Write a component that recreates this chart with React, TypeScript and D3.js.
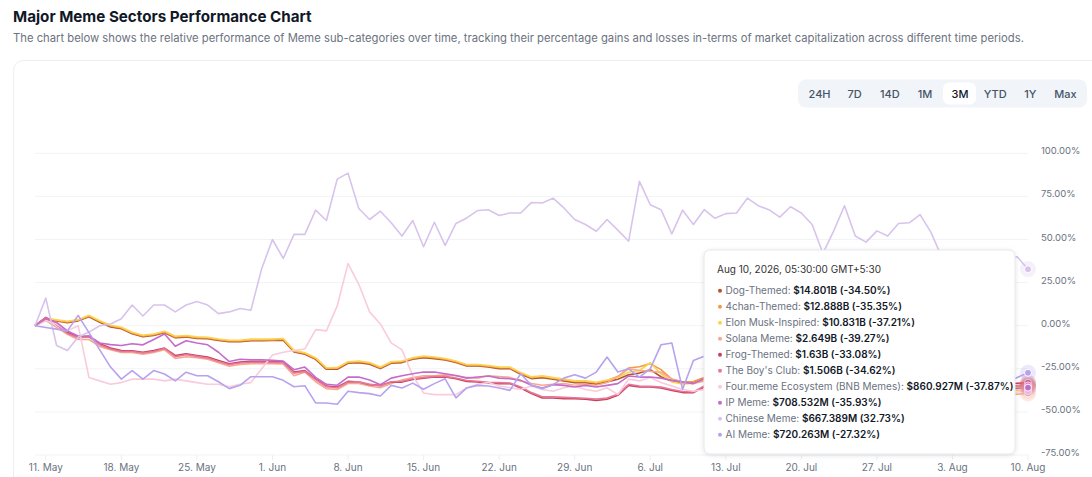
import * as d3 from "d3";

// daily points, 10 May 2026 .. 10 Aug 2026
const startDay = new Date(Date.UTC(2026, 4, 10));
const endDay = new Date(Date.UTC(2026, 7, 10));
const dates = d3.utcDay.range(startDay, d3.utcDay.offset(endDay, 1));

// % change per series
const dogThemed = [
  0, 3.8, 2.8, 1.7, 2.8, 5.2, 2.0, -0.7, -1.8, -4.7,
  -6.4, -5.7, -4.1, -7.0, -6.6, -7.4, -7.6, -8.6, -9.3, -9.3,
  -8.7, -8.7, -8.6, -8.4, -15.3, -16.6, -19.5, -25.3, -25.3, -21.8,
  -21.4, -22.3, -24.9, -21.8, -21.4, -19.5, -18.5, -19.1, -19.9, -21.4,
  -23.4, -23.4, -24.0, -24.9, -24.9, -28.2, -30.7, -30.1, -31.1, -32.0,
  -33.0, -33.0, -33.9, -32.6, -31.1, -28.5, -27.5, -25.5, -29.6, -32.3,
  -33.2, -33.0, -30.8, -31.5, -32.4, -33.8, -34.6, -33.1, -35.2, -36.0,
  -34.4, -33.6, -35.1, -36.5, -35.8, -34.2, -33.5, -35.0, -36.2, -34.9,
  -33.8, -35.5, -36.8, -35.6, -34.1, -33.7, -35.2, -36.1, -34.8, -33.9,
  -35.3, -34.7, -34.5,
];
const fourChan = [
  0, 4.2, 3.1, 2.2, 3.2, 5.6, 2.5, -0.2, -1.3, -4.2,
  -5.9, -5.2, -3.6, -6.5, -6.1, -6.9, -7.1, -8.1, -8.8, -8.8,
  -8.2, -8.2, -8.2, -7.9, -14.8, -16.1, -19.0, -24.8, -24.7, -21.3,
  -20.9, -21.8, -24.4, -21.3, -20.9, -19.0, -18.0, -18.6, -19.4, -20.9,
  -22.9, -22.9, -23.5, -24.4, -24.4, -27.6, -30.1, -29.5, -30.5, -31.4,
  -32.4, -32.4, -33.2, -31.8, -29.5, -24.5, -23.8, -22.0, -25.5, -31.0,
  -32.5, -32.4, -30.0, -30.8, -32.0, -33.5, -35.0, -34.2, -35.8, -36.4,
  -35.1, -34.0, -35.6, -37.0, -36.3, -34.8, -34.1, -35.7, -36.9, -35.5,
  -34.4, -36.0, -37.3, -36.2, -34.8, -34.3, -35.8, -36.7, -35.4, -34.6,
  -35.9, -35.6, -35.35,
];
const elonMusk = [
  0, 4.5, 3.4, 2.6, 3.5, 6.0, 2.9, 0.3, -0.9, -3.8,
  -5.5, -4.8, -3.2, -6.1, -5.7, -6.5, -6.7, -7.7, -8.4, -8.4,
  -7.8, -7.8, -7.7, -7.4, -14.3, -15.7, -18.6, -24.4, -24.3, -20.9,
  -20.5, -21.4, -24.0, -20.9, -20.5, -18.6, -17.6, -18.2, -19.0, -20.5,
  -22.5, -22.5, -23.1, -24.0, -24.0, -27.2, -29.7, -29.1, -30.1, -31.0,
  -32.0, -32.0, -32.8, -31.5, -30.0, -27.0, -26.0, -21.5, -28.0, -32.6,
  -33.8, -33.5, -31.0, -32.2, -33.6, -35.1, -36.4, -35.5, -37.1, -37.9,
  -36.6, -35.8, -37.2, -38.6, -37.9, -36.4, -35.9, -37.4, -38.5, -37.2,
  -36.1, -37.8, -39.0, -37.9, -36.5, -36.0, -37.5, -38.4, -37.1, -36.3,
  -37.6, -37.4, -37.21,
];
const solanaMeme = [
  0, 3.0, -1.0, -5.0, -8.0, -8.0, -12.0, -14.0, -15.5, -15.5,
  -16.5, -15.5, -14.0, -19.0, -18.0, -18.5, -19.5, -21.5, -23.5, -22.5,
  -22.0, -22.0, -22.0, -22.2, -29.0, -27.0, -32.5, -36.5, -37.0, -33.5,
  -33.5, -35.0, -36.0, -33.5, -31.5, -30.0, -29.0, -29.0, -28.5, -29.0,
  -30.0, -30.5, -29.0, -29.5, -30.0, -32.0, -33.5, -34.5, -34.0, -33.5,
  -34.5, -34.0, -34.5, -33.0, -29.5, -25.0, -26.0, -26.5, -27.0, -31.0,
  -33.0, -33.5, -32.0, -33.4, -34.8, -36.2, -35.1, -37.0, -38.3, -37.2,
  -36.0, -37.8, -39.1, -38.4, -36.9, -38.2, -39.6, -38.7, -37.3, -38.5,
  -40.0, -39.1, -37.6, -38.9, -40.2, -39.0, -37.8, -39.4, -40.3, -38.9,
  -39.6, -39.8, -39.27,
];
const frogThemed = [
  0, 4.8, 1.0, -3.8, -6.7, -6.1, -10.5, -13.0, -14.4, -14.6,
  -15.4, -14.4, -13.0, -17.3, -16.3, -17.3, -18.2, -20.2, -22.1, -21.1,
  -20.8, -20.8, -20.9, -21.0, -26.9, -26.0, -30.8, -35.0, -35.6, -32.3,
  -32.7, -34.2, -34.6, -32.7, -32.7, -31.2, -30.4, -29.8, -29.8, -30.8,
  -32.3, -32.7, -33.3, -33.6, -33.6, -36.1, -39.4, -41.9, -41.9, -42.3,
  -42.3, -42.7, -43.3, -42.7, -40.4, -34.6, -35.6, -35.6, -36.1, -37.5,
  -38.8, -38.8, -35.6, -34.9, -36.2, -35.1, -33.8, -34.7, -36.0, -35.2,
  -33.9, -32.8, -34.1, -35.5, -34.3, -33.1, -32.4, -33.9, -35.0, -34.0,
  -32.7, -33.8, -35.2, -34.1, -32.9, -32.2, -33.6, -34.6, -33.5, -32.6,
  -33.9, -33.4, -33.08,
];
const boysClub = [
  0, 4.5, 0.5, -4.5, -7.0, -6.5, -11.0, -13.5, -15.0, -15.0,
  -15.8, -15.0, -13.2, -18.0, -16.8, -17.8, -18.8, -20.8, -22.6, -21.6,
  -21.2, -21.2, -21.3, -21.5, -27.5, -26.5, -31.3, -35.4, -36.0, -32.8,
  -32.6, -34.0, -35.0, -32.5, -32.2, -30.8, -30.0, -29.5, -29.4, -30.3,
  -31.8, -32.2, -32.8, -33.0, -33.2, -35.5, -38.8, -41.2, -41.3, -41.6,
  -41.8, -42.1, -42.6, -42.0, -39.8, -34.0, -35.0, -35.2, -35.6, -37.0,
  -38.2, -38.4, -35.0, -35.8, -37.0, -36.1, -34.9, -35.6, -36.8, -36.0,
  -34.8, -33.9, -35.2, -36.5, -35.4, -34.3, -33.6, -35.0, -36.1, -35.2,
  -34.0, -35.1, -36.4, -35.3, -34.2, -33.5, -34.9, -35.8, -34.7, -33.9,
  -35.1, -34.9, -34.62,
];
const fourMeme = [
  0, 3.0, 1.0, -3.0, 0.0, -30.0, -32.0, -34.0, -33.0, -31.0,
  -31.0, -31.0, -32.0, -31.0, -32.0, -33.0, -34.0, -34.0, -35.5, -34.0,
  -33.0, -25.0, -17.0, -15.4, -14.4, -13.5, -2.3, -3.0, 11.5, 36.0,
  24.0, 8.0, 1.0, -10.0, -14.0, -29.0, -39.0, -40.0, -40.0, -40.0,
  -36.0, -34.0, -33.0, -35.0, -36.0, -37.0, -35.0, -37.0, -38.0, -36.0,
  -35.0, -37.0, -38.0, -36.0, -40.0, -31.0, -32.0, -30.0, -33.0, -35.0,
  -37.0, -38.0, -37.0, -38.0, -36.0, -39.0, -40.0, -37.0, -35.0, -38.0,
  -41.0, -39.0, -36.0, -38.0, -40.0, -37.0, -39.0, -41.0, -38.0, -36.0,
  -39.0, -40.0, -37.0, -38.0, -41.0, -39.0, -36.0, -38.0, -40.0, -37.0,
  -39.0, -38.5, -37.87,
];
const ipMeme = [
  0, 4.0, 2.0, -3.0, -6.0, -6.0, -10.0, -11.0, -11.5, -10.5,
  -11.1, -8.0, -4.8, -11.9, -8.7, -10.0, -11.1, -15.4, -20.8, -19.5,
  -19.8, -19.8, -20.0, -20.5, -25.5, -24.0, -30.0, -34.0, -34.5, -29.8,
  -29.8, -31.5, -34.2, -30.4, -29.0, -27.9, -26.9, -26.9, -27.9, -28.9,
  -30.4, -29.8, -29.2, -30.4, -30.8, -31.7, -34.6, -36.1, -34.2, -34.6,
  -35.6, -34.6, -35.6, -34.6, -33.6, -29.2, -29.8, -29.8, -30.4, -31.7,
  -32.7, -33.6, -30.8, -31.9, -33.2, -34.5, -33.4, -35.1, -36.3, -35.4,
  -34.2, -35.8, -37.0, -36.1, -34.7, -35.9, -37.2, -36.3, -35.0, -36.4,
  -37.6, -36.5, -35.2, -36.6, -37.8, -36.7, -35.4, -36.9, -37.5, -36.2,
  -36.8, -36.4, -35.93,
];
const chineseMeme = [
  0, 16, -11.5, -14.4, -6.6, -3.7, 0, 1, 4, 12,
  5.6, 12, 12, 8, 12, 14, 12, 7, 8, 10,
  9, 33, 50, 39, 53, 53, 67, 61, 85, 88.5,
  68, 61.6, 66.4, 59.7, 52, 61, 45.8, 60, 46.6, 59.3,
  62.5, 66.8, 67.3, 63.9, 65.4, 65.4, 71.5, 71.2, 74, 68.3,
  61.6, 58.7, 54.8, 61.6, 55.4, 49, 83.7, 70.2, 67.3, 53.3,
  67, 58.7, 67.3, 62.3, 65, 65.4, 74, 69.6, 67.3, 63,
  69, 65.4, 58.7, 42, 55, 69.6, 52, 48.5, 55, 52,
  59.3, 59.7, 64.4, 54.3, 40, 36, 33, 38, 41, 37,
  39, 40, 32.73,
];
const aiMeme = [
  0, -1, -2, -3, 6, -4, -14, -24, -31, -26,
  -31, -26, -28, -32, -27, -29, -29, -32.5, -36.5, -34.6,
  -29.6, -29.6, -29.6, -31.7, -35.4, -34.8, -44.8, -44.8, -45.6, -38,
  -38.8, -39.4, -40.8, -34.6, -36.1, -33.3, -36.9, -33.6, -30.8, -41.9,
  -36.1, -34.6, -35, -36.1, -37.5, -27.9, -34.6, -36.5, -34.2, -30.4,
  -28.5, -30.4, -26.9, -18.2, -26.9, -25, -29.8, -25, -11.1, -10,
  -36.9, -20.2, -17.7, -22, -25, -30, -28, -33, -31, -35,
  -30, -27, -32, -29, -34, -31, -26, -30, -33, -28,
  -31, -36, -33, -29, -31, -34, -30, -26, -29, -31,
  -33, -30, -27.32,
];

const seriesNames = [
  "Dog-Themed",
  "4chan-Themed",
  "Elon Musk-Inspired",
  "Solana Meme",
  "Frog-Themed",
  "The Boy's Club",
  "Four.meme Ecosystem (BNB Memes)",
  "IP Meme",
  "Chinese Meme",
  "AI Meme",
];
const seriesValues = [
  dogThemed, fourChan, elonMusk, solanaMeme, frogThemed,
  boysClub, fourMeme, ipMeme, chineseMeme, aiMeme,
];
const seriesColors = [
  "#b4532f", "#f29a45", "#fcd34d", "#f7a98c", "#c9405c",
  "#e6799b", "#f9cbdc", "#c46ccb", "#d8c3ec", "#b6a2ef",
];
const tooltipValues = [
  "$14.801B (-34.50%)",
  "$12.888B (-35.35%)",
  "$10.831B (-37.21%)",
  "$2.649B (-39.27%)",
  "$1.63B (-33.08%)",
  "$1.506B (-34.62%)",
  "$860.927M (-37.87%)",
  "$708.532M (-35.93%)",
  "$667.389M (32.73%)",
  "$720.263M (-27.32%)",
];
const tooltipTitle = "Aug 10, 2026, 05:30:00 GMT+5:30";
const rangeButtons = ["24H", "7D", "14D", "1M", "3M", "YTD", "1Y", "Max"];
const activeRange = "3M";
const yTicks = [100, 75, 50, 25, 0, -25, -50, -75];

const FONT = "Inter, 'Noto Sans', sans-serif";

export default function App() {
  const x = d3.scaleUtc().domain([startDay, endDay]).range([35, 1028]);
  const y = d3.scaleLinear().domain([-75, 100]).range([455, 153.3]);
  const xTicks = x.ticks(d3.utcMonday.every(1)!);
  const fmt = d3.utcFormat("%-d. %b");

  const line = d3
    .line<number>()
    .x((_, i) => x(dates[i]))
    .y((d) => y(d));

  const btn = d3.scaleBand<string>().domain(rangeButtons).range([802, 1083]);
  const lastDate = dates[dates.length - 1];

  return (
    <div style={{ position: "absolute", left: 0, top: 0 }}>
      <svg width={1092} height={477} style={{ display: "block", fontFamily: FONT }}>
        <defs>
          <filter id="tipShadow" x="-10%" y="-10%" width="120%" height="130%">
            <feDropShadow dx="0" dy="1" stdDeviation="2" floodColor="#000" floodOpacity="0.12" />
          </filter>
        </defs>
        <rect width={1092} height={477} fill="#fff" />

        <text x={13} y={22} fontSize={15.2} fontWeight={700} fill="#111827">
          Major Meme Sectors Performance Chart
        </text>
        <text x={13} y={42} fontSize={11.25} fill="#6b7280">
          The chart below shows the relative performance of Meme sub-categories over time, tracking their percentage gains and losses in-terms of market capitalization across different time periods.
        </text>

        <rect x={13.5} y={60.5} width={1100} height={440} rx={10} fill="#fff" stroke="#eceef2" />

        {/* range selector */}
        <rect x={798} y={79.5} width={289} height={28} rx={8} fill="#f1f4f8" />
        {rangeButtons.map((b) => {
          const cx = btn(b)! + btn.bandwidth() / 2;
          const active = b === activeRange;
          return (
            <g key={b}>
              {active && (
                <rect x={cx - 17} y={82.5} width={33} height={22} rx={6} fill="#fff" />
              )}
              <text
                x={cx}
                y={97.5}
                textAnchor="middle"
                fontSize={11}
                fontWeight={500}
                fill={active ? "#111827" : "#475569"}
              >
                {b}
              </text>
            </g>
          );
        })}

        {/* grid + y axis */}
        {yTicks.map((t) => (
          <g key={t}>
            <line x1={35} x2={1028} y1={y(t)} y2={y(t)} stroke="#f2f3f5" />
            <text x={1041} y={y(t) + 1} fontSize={9.5} fill="#6b7280">
              {t.toFixed(2)}%
            </text>
          </g>
        ))}

        {/* x axis */}
        {xTicks.map((t) => (
          <g key={+t}>
            <line x1={x(t)} x2={x(t)} y1={455} y2={460} stroke="#eceef1" />
            <text x={x(t)} y={471} textAnchor="middle" fontSize={10} fill="#6b7280">
              {fmt(t)}
            </text>
          </g>
        ))}

        {/* series */}
        {seriesValues.map((vals, k) => (
          <path
            key={seriesNames[k]}
            d={line(vals)!}
            fill="none"
            stroke={seriesColors[k]}
            strokeWidth={1.6}
            strokeLinejoin="round"
          />
        ))}

        {/* hover markers at last point */}
        {seriesValues.map((vals, k) => (
          <g key={"m" + k}>
            <circle cx={x(lastDate)} cy={y(vals[vals.length - 1])} r={8} fill={seriesColors[k]} opacity={0.25} />
            <circle cx={x(lastDate)} cy={y(vals[vals.length - 1])} r={3.5} fill={seriesColors[k]} stroke="#fff" strokeWidth={1} />
          </g>
        ))}

        {/* tooltip */}
        <g>
          <rect x={704} y={250} width={311} height={204} rx={6} fill="#fff" stroke="#e5e7eb" filter="url(#tipShadow)" />
          <text x={717} y={272.5} fontSize={10} fill="#333">
            {tooltipTitle}
          </text>
          {seriesNames.map((n, k) => {
            const cy = 290.7 + k * 16;
            return (
              <g key={"t" + k}>
                <circle cx={720} cy={cy} r={2} fill={seriesColors[k]} />
                <text x={725.5} y={cy + 3.6} fontSize={10} fill="#6b7280">
                  {n}:{" "}
                  <tspan fontWeight={600} fill="#111827">
                    {tooltipValues[k]}
                  </tspan>
                </text>
              </g>
            );
          })}
        </g>
      </svg>
    </div>
  );
}
